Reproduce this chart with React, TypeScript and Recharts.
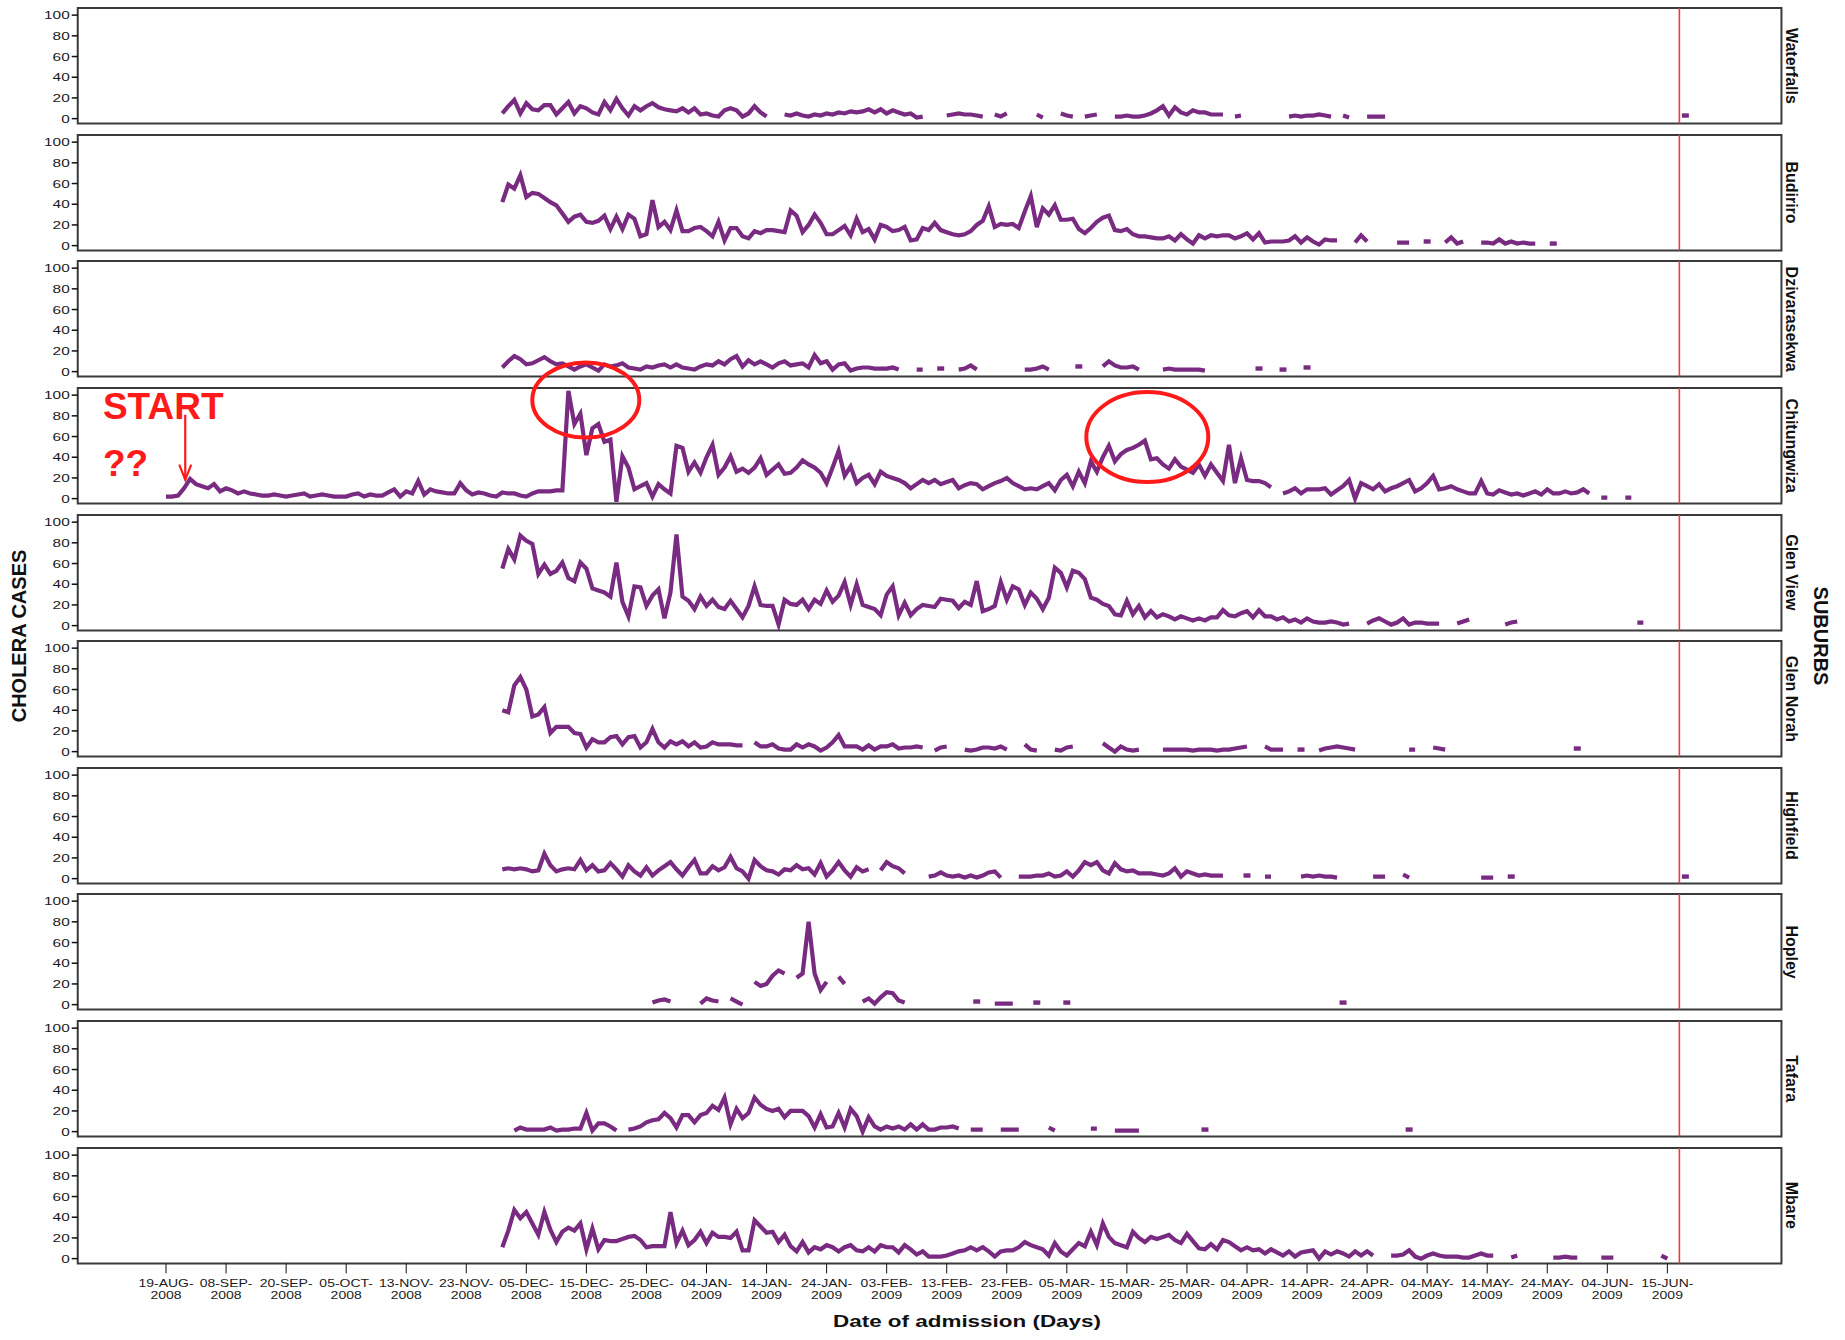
import React from 'react';
import { LineChart, Line, XAxis, YAxis, ReferenceLine, ReferenceArea, ReferenceDot } from 'recharts';

type Run = [number, number[]];

// ---------------- data ----------------
const SUBURB_NAMES = ['Waterfalls', 'Budiriro', 'Dzivarasekwa', 'Chitungwiza', 'Glen View', 'Glen Norah', 'Highfield', 'Hopley', 'Tafara', 'Mbare'];

const X_TICK_LABELS = [
  '19-AUG-2008', '08-SEP-2008', '20-SEP-2008', '05-OCT-2008', '13-NOV-2008', '23-NOV-2008', '05-DEC-2008',
  '15-DEC-2008', '25-DEC-2008', '04-JAN-2009', '14-JAN-2009', '24-JAN-2009', '03-FEB-2009', '13-FEB-2009',
  '23-FEB-2009', '05-MAR-2009', '15-MAR-2009', '25-MAR-2009', '04-APR-2009', '14-APR-2009', '24-APR-2009',
  '04-MAY-2009', '14-MAY-2009', '24-MAY-2009', '04-JUN-2009', '15-JUN-2009',
];
const X_TICK_INDEX = X_TICK_LABELS.map((_, k) => k * 10);
const Y_TICKS = [0, 20, 40, 60, 80, 100];
const CUTOFF_DAY_INDEX = 252;

// each run: [first day index, daily case counts]
const waterfalls: Run[] = [
  [56, [5, 12, 18, 5, 15, 9, 8, 13, 13, 4, 10, 16, 5, 12, 10, 6, 4, 16, 8, 19, 10, 3, 12, 8, 12, 15, 11, 9, 8, 7, 10, 6, 10, 4, 5, 3, 2, 8, 10, 8, 2, 5, 12, 6, 2]],
  [103, [4, 3, 5, 3, 2, 4, 3, 5, 4, 6, 5, 7, 6, 7, 9, 6, 9, 5, 8, 6, 4, 5, 1, 2]],
  [130, [3, 4, 5, 4, 4, 3, 2]],
  [138, [4, 2, 5]],
  [145, [4, 1]],
  [149, [5, 3, 2]],
  [153, [2, 3, 4]],
  [158, [2, 2, 3, 2, 2, 3, 5, 8, 12, 3, 11, 6, 4, 8, 6, 6, 4, 4, 4]],
  [178, [2, 3]],
  [187, [2, 3, 2, 3, 3, 4, 3, 2]],
  [196, [3, 1]],
  [200, [2, 2, 2, 2]],
  [253, [3]],
];

const budiriro: Run[] = [
  [56, [42, 59, 55, 68, 47, 51, 50, 46, 42, 39, 31, 23, 28, 30, 23, 22, 24, 29, 16, 28,
    16, 30, 26, 9, 11, 44, 18, 23, 15, 34, 14, 14, 17, 18, 14, 9, 23, 5, 17, 17,
    9, 7, 14, 12, 15, 15, 14, 13, 34, 29, 13, 20, 30, 22, 11, 11, 15, 19, 10, 26,
    13, 16, 6, 20, 18, 14, 15, 18, 5, 6, 17, 15, 22, 15, 13, 11, 10, 11, 14, 20,
    24, 38, 18, 21, 20, 21, 17, 33, 48, 18, 36, 30, 39, 25, 25, 26, 16, 12, 17, 23,
    27, 29, 15, 14, 16, 11, 9, 9, 8, 7, 7, 9, 5, 11, 6, 2, 10, 7, 10, 9,
    10, 10, 7, 9, 12, 6, 12, 3, 4, 4, 4, 5, 9, 3, 8, 4, 1, 6, 5, 5]],
  [198, [3, 10, 4]],
  [205, [3, 3, 3]],
  [210, [4]],
  [213, [3, 8, 2, 4]],
  [219, [3, 3, 2, 6, 2, 4, 2, 3, 2, 2]],
  [231, [2]],
];

const dzivarasekwa: Run[] = [
  [56, [4, 10, 15, 12, 7, 8, 11, 14, 10, 7, 8, 5, 2, 5, 7, 4, 1, 7, 5, 6,
    8, 4, 3, 2, 5, 4, 6, 7, 4, 7, 4, 3, 2, 5, 7, 6, 10, 7, 12, 15,
    5, 11, 7, 10, 7, 4, 8, 10, 6, 7, 8, 4, 16, 8, 10, 2, 7, 8, 1, 3,
    4, 4, 3, 3, 3, 4, 2]],
  [125, [2, 2]],
  [129, [3]],
  [132, [2, 3, 6, 2]],
  [143, [2, 2, 3, 5, 2]],
  [152, [5]],
  [156, [5, 10, 6, 4, 4, 5, 2]],
  [166, [2, 3, 2, 2, 2, 2, 2, 1]],
  [182, [3]],
  [186, [2]],
  [190, [4]],
];

const chitungwiza: Run[] = [
  [0, [2, 2, 3, 10, 19, 14, 12, 10, 14, 7, 10, 8, 5, 7, 5, 4, 3, 3, 4, 3,
    2, 3, 4, 5, 2, 3, 4, 3, 2, 2, 2, 4, 5, 2, 4, 3, 3, 6, 9, 2,
    7, 5, 17, 4, 9, 7, 6, 5, 5, 15, 8, 4, 6, 5, 3, 2, 6, 5, 5, 3,
    2, 5, 7, 7, 7, 8, 8,
    104, 72, 82, 42, 68, 72, 55, 57, -3, 41, 30, 9, 12, 15, 2, 14, 9, 5, 51,
    49, 26, 35, 25, 40, 52, 23, 30, 41, 26, 29, 25, 30, 39, 23, 28, 33, 24, 25, 30,
    37, 33, 30, 25, 15, 30, 46, 22, 31, 15, 20, 23, 14, 26, 22, 20, 18, 15, 10, 14,
    18, 15, 18, 14, 16, 18, 10, 13, 15, 14, 9, 12, 15, 17, 20, 15, 12, 9, 10, 9,
    12, 15, 8, 18, 23, 12, 26, 15, 36, 26, 40, 51, 36, 43, 47, 49, 52, 56, 38, 39,
    33, 29, 38, 31, 28, 25, 33, 22, 33, 25, 17, 52, 15, 39, 18, 17, 17, 15, 11]],
  [186, [5, 7, 10, 5, 9, 9, 9, 10, 4, 8, 12, 18, 0, 15, 12, 9, 14, 7, 10, 12,
    15, 18, 7, 10, 15, 22, 9, 10, 12, 9, 7, 5, 5, 17, 5, 4, 8, 6, 4, 5,
    3, 5, 7, 4, 9, 5, 5, 7, 5, 6, 9, 5]],
  [239, [1, 1]],
  [243, [1, 1]],
];

const glenView: Run[] = [
  [56, [55, 74, 64, 87, 82, 79, 50, 59, 50, 53, 61, 46, 43, 61, 55, 36, 34, 32, 28, 61,
    23, 9, 38, 37, 19, 29, 35, 7, 32, 88, 28, 24, 16, 28, 19, 25, 18, 16, 24, 16,
    8, 19, 38, 20, 19, 19, 1, 25, 21, 20, 25, 16, 25, 21, 34, 23, 29, 42, 20, 40,
    20, 18, 16, 10, 30, 38, 10, 22, 10, 16, 20, 19, 18, 26, 25, 24, 17, 23, 20, 43,
    14, 16, 19, 42, 25, 38, 35, 20, 32, 26, 16, 27, 56, 51, 37, 53, 51, 45, 27, 25,
    21, 19, 11, 10, 24, 11, 19, 8, 14, 8, 11, 9, 6, 9, 7, 5, 7, 5, 8, 8,
    15, 10, 9, 12, 14, 8, 15, 9, 9, 6, 8, 4, 6, 3, 7, 4, 3, 3, 4, 3, 1, 2]],
  [200, [2, 5, 7, 4, 1, 3, 7, 1, 3, 3, 2, 2, 2]],
  [215, [2, 4, 6]],
  [223, [1, 3, 4]],
  [245, [3, 3]],
];

const glenNorah: Run[] = [
  [56, [40, 38, 64, 72, 60, 34, 36, 43, 18, 24, 24, 24, 18, 17, 4, 12, 9, 9, 14, 15,
    7, 14, 15, 4, 9, 22, 9, 4, 10, 7, 10, 5, 9, 4, 5, 9, 7, 7, 7, 6, 6]],
  [98, [9, 5, 5, 7, 3, 2, 2, 7, 4, 7, 5, 1, 4, 9, 16, 5, 5, 5, 2, 6, 2, 5, 5, 7, 3, 4, 4, 5, 4]],
  [128, [1, 4, 5]],
  [133, [2, 1, 2, 4, 4, 3, 5, 2]],
  [143, [7, 2, 1]],
  [148, [2, 1, 4, 5]],
  [156, [8, 4, 0, 5, 2, 1, 2]],
  [166, [2, 2, 2, 2, 2, 1, 2, 2, 2, 1, 2, 2, 3, 4, 5]],
  [183, [5, 2, 2, 2]],
  [189, [2]],
  [192, [1, 3, 4, 5, 4, 3, 2]],
  [207, [2, 2]],
  [211, [4, 3, 2]],
  [235, [3]],
];

const highfield: Run[] = [
  [56, [9, 10, 9, 10, 9, 7, 8, 24, 13, 7, 9, 10, 9, 18, 8, 13, 7, 8, 15, 9,
    2, 13, 7, 3, 11, 3, 8, 12, 16, 9, 3, 11, 18, 5, 5, 12, 8, 11, 21, 10,
    7, 0, 18, 12, 8, 7, 4, 9, 8, 13, 9, 10, 4, 15, 2, 8, 16, 8, 2, 11, 7, 9]],
  [119, [8, 16, 12, 10, 5]],
  [127, [2, 3, 6, 3, 2, 3, 1, 3, 1, 3, 6, 7, 1]],
  [142, [2, 2, 2, 3, 3, 5, 2, 3, 7, 2, 8, 16, 13, 16, 8, 5, 15, 9, 7, 8,
    5, 5, 5, 4, 3, 5, 10, 2, 7, 5, 3, 4, 3, 3, 3]],
  [180, [3]],
  [183, [2, 2]],
  [189, [2, 3, 2, 3, 2, 2, 1]],
  [201, [2, 2, 2]],
  [206, [4, 1]],
  [219, [1, 1, 1]],
  [224, [2]],
  [253, [2]],
];

const hopley: Run[] = [
  [81, [2, 4, 5, 3]],
  [89, [1, 6, 4, 3]],
  [94, [6, 3, 0]],
  [98, [22, 18, 20, 28, 33, 30]],
  [105, [26, 30, 80, 30, 14, 22]],
  [112, [27, 20]],
  [116, [3, 6, 1, 7, 12, 11, 4, 2]],
  [135, [3]],
  [138, [1, 1, 1, 1]],
  [145, [2]],
  [150, [2]],
  [196, [2]],
];

const tafara: Run[] = [
  [58, [1, 4, 2, 2, 2, 2, 4, 1, 2, 2, 3, 3, 18, 1, 8, 8, 5, 1]],
  [77, [2, 3, 5, 9, 11, 12, 18, 13, 4, 16, 16, 9, 16, 18, 25, 21, 33, 7, 22, 13,
    18, 33, 26, 22, 20, 22, 14, 20, 20, 20, 15, 4, 17, 4, 5, 18, 4, 22, 15, 0,
    14, 5, 2, 5, 3, 5, 2, 7, 2, 7, 2, 2, 4, 4, 5, 3]],
  [134, [2, 2, 2]],
  [139, [2, 2, 2, 2]],
  [147, [4, 1]],
  [154, [3, 3]],
  [158, [1, 1, 1, 1, 1]],
  [173, [2]],
  [207, [2]],
];

const mbare: Run[] = [
  [56, [11, 27, 47, 39, 45, 34, 23, 45, 28, 16, 26, 30, 27, 34, 9, 29, 9, 18, 17, 17,
    19, 21, 22, 18, 11, 12, 12, 12, 45, 15, 27, 13, 18, 26, 15, 25, 21, 21, 20, 26,
    8, 8, 37, 31, 25, 26, 16, 23, 12, 7, 16, 6, 11, 9, 13, 11, 7, 11, 13, 8,
    7, 11, 7, 13, 11, 11, 6, 13, 9, 4, 7, 2, 2, 2, 3, 5, 7, 8, 11, 8,
    11, 7, 2, 7, 8, 8, 11, 16, 13, 11, 9, 3, 15, 7, 3, 9, 15, 12, 26, 13,
    34, 21, 15, 13, 11, 26, 20, 16, 21, 19, 21, 23, 18, 15, 24, 17, 10, 9, 14, 9,
    18, 16, 12, 8, 11, 8, 9, 5, 9, 6, 3, 7, 2, 6, 7, 8, 0, 7, 4, 7,
    5, 2, 7, 3, 7, 3]],
  [204, [3, 3, 4, 8, 2, 0, 3, 5, 3, 2, 2, 2, 1, 1, 3, 5, 3, 3]],
  [224, [1, 3]],
  [231, [1, 1, 2, 1, 1]],
  [239, [1, 1, 1]],
  [249, [3, 0]],
];

const SERIES: Run[][] = [waterfalls, budiriro, dzivarasekwa, chitungwiza, glenView, glenNorah, highfield, hopley, tafara, mbare];

// ---------------- layout / style ----------------
const W = 1845;
const H = 1340;
const PLOT_LEFT = 77.7;
const PLOT_RIGHT = 1781.5;
const PANEL_TOP0 = 8.2;
const PITCH = 126.6;
const PANEL_H = 115.4;
const MT = 40;
const MB = 40;
const Y_AXIS_W = 60;
const X_AXIS_H = 45;
const X_DOMAIN: [number, number] = [-14.7, 269.0];
const Y_DOMAIN: [number, number] = [-4.6, 106.9];
const N_DAYS = 262;

const PURPLE = '#782B80';
const RED = '#FF1A1A';
const REF_RED = '#EE3B3B';
const FONT = '"Liberation Sans", Arial, sans-serif';

function buildRows(runs: Run[]) {
  const rows: { i: number; v: number | null }[] = Array.from({ length: N_DAYS }, (_, i) => ({ i, v: null }));
  runs.forEach(([start, vals]) => vals.forEach((v, j) => { rows[start + j].v = v; }));
  return rows;
}

const YTick = (props: any) => {
  const { x, y, payload } = props;
  return (
    <g transform={`translate(${x},${y})`}>
      <text x={0} y={0} dy={4} textAnchor="end" transform="scale(1.4,1)" fontSize={11} fill="#1a1a1a" fontFamily={FONT}>
        {payload.value}
      </text>
    </g>
  );
};

const XTick = (props: any) => {
  const { x, y, payload } = props;
  const label = X_TICK_LABELS[Math.round(payload.value / 10)] || '';
  const cut = label.lastIndexOf('-') + 1;
  return (
    <g transform={`translate(${x},${y})`}>
      <text textAnchor="middle" transform="scale(1.4,1)" fontSize={10} fill="#1a1a1a" fontFamily={FONT}>
        <tspan x={0} dy={11.5}>{label.slice(0, cut)}</tspan>
        <tspan x={0} dy={12.5}>{label.slice(cut)}</tspan>
      </text>
    </g>
  );
};

// annotation positions in data coordinates (day index, cases) for the Chitungwiza panel
const NOTE_ELLIPSES = [
  { x: 69.9, y: 95.3, rx: 53.5, ry: 37.6 },
  { x: 163.4, y: 59.5, rx: 61, ry: 45 },
];
const NOTE_START = { x: -10.5, y: 77, text: 'START' };
const NOTE_Q = { x: -10.5, y: 21.8, text: '??' };
const NOTE_ARROW = { x: 3.2, y: 18.3 };

function Panel({ k }: { k: number }) {
  const rows = buildRows(SERIES[k]);
  const last = k === SUBURB_NAMES.length - 1;
  const panelTop = PANEL_TOP0 + k * PITCH;
  const height = MT + PANEL_H + MB + (last ? X_AXIS_H : 0);
  const renderDot = (p: any) => {
    const idx = p.index;
    const cur = rows[idx]?.v;
    const prev = idx > 0 ? rows[idx - 1]?.v : null;
    const next = rows[idx + 1]?.v;
    if (cur == null || p.cx == null || p.cy == null || prev != null || next != null) {
      return <g key={`d-${idx}`} />;
    }
    return <rect key={`d-${idx}`} x={p.cx - 3.5} y={p.cy - 2.2} width={7} height={4.4} fill={PURPLE} />;
  };
  return (
    <div style={{ position: 'absolute', left: 0, top: panelTop - MT }}>
      <LineChart
        width={W}
        height={height}
        data={rows}
        margin={{ top: MT, bottom: MB, left: PLOT_LEFT - Y_AXIS_W, right: W - PLOT_RIGHT }}
      >
        <XAxis
          dataKey="i"
          type="number"
          domain={X_DOMAIN}
          ticks={X_TICK_INDEX}
          interval={0}
          allowDataOverflow
          hide={!last}
          height={X_AXIS_H}
          axisLine={false}
          tickLine={{ stroke: '#111', strokeWidth: 1 }}
          tickSize={10}
          tickMargin={2}
          tick={(p: any) => <XTick {...p} />}
        />
        <YAxis
          type="number"
          domain={Y_DOMAIN}
          ticks={Y_TICKS}
          interval={0}
          allowDataOverflow
          width={Y_AXIS_W}
          axisLine={false}
          tickLine={{ stroke: '#111', strokeWidth: 1.5 }}
          tickSize={6}
          tickMargin={2}
          tick={(p: any) => <YTick {...p} />}
        />
        <ReferenceArea
          x1={X_DOMAIN[0]}
          x2={X_DOMAIN[1]}
          y1={Y_DOMAIN[0]}
          y2={Y_DOMAIN[1]}
          fill="none"
          fillOpacity={0}
          stroke="#3a3a3a"
          strokeWidth={2}
          ifOverflow="visible"
        />
        <ReferenceLine x={CUTOFF_DAY_INDEX} stroke={REF_RED} strokeWidth={1.6} ifOverflow="visible" />
        <Line
          type="linear"
          dataKey="v"
          stroke={PURPLE}
          strokeWidth={4.2}
          strokeLinejoin="miter"
          strokeLinecap="butt"
          dot={renderDot}
          activeDot={false}
          connectNulls={false}
          isAnimationActive={false}
        />
        {k === 3 && NOTE_ELLIPSES.map((e, n) => (
          <ReferenceDot
            key={`el-${n}`}
            x={e.x}
            y={e.y}
            r={1}
            ifOverflow="visible"
            shape={(p: any) => (
              <ellipse cx={p.cx} cy={p.cy} rx={e.rx} ry={e.ry} fill="none" stroke={RED} strokeWidth={4} />
            )}
          />
        ))}
        {k === 3 && [NOTE_START, NOTE_Q].map((t, n) => (
          <ReferenceDot
            key={`tx-${n}`}
            x={t.x}
            y={t.y}
            r={1}
            ifOverflow="visible"
            shape={(p: any) => (
              <text x={p.cx} y={p.cy} fill={RED} fontSize={37} fontWeight="bold" fontFamily={FONT}>{t.text}</text>
            )}
          />
        ))}
        {k === 3 && (
          <ReferenceDot
            x={NOTE_ARROW.x}
            y={NOTE_ARROW.y}
            r={1}
            ifOverflow="visible"
            shape={(p: any) => (
              <g stroke={RED} strokeWidth={2.2} fill="none">
                <line x1={p.cx} y1={p.cy - 65} x2={p.cx} y2={p.cy} />
                <polyline points={`${p.cx - 6},${p.cy - 15} ${p.cx},${p.cy} ${p.cx + 6},${p.cy - 15}`} />
              </g>
            )}
          />
        )}
      </LineChart>
    </div>
  );
}

export default function App() {
  return (
    <div style={{ position: 'relative', width: W, height: H, background: '#fff', overflow: 'hidden', fontFamily: FONT }}>
      <style>{'body{margin:0;background:#fff;}'}</style>
      {SUBURB_NAMES.map((_, k) => <Panel key={k} k={k} />)}
      <svg width={W} height={H} style={{ position: 'absolute', left: 0, top: 0, pointerEvents: 'none' }}>
        {SUBURB_NAMES.map((name, k) => (
          <text
            key={name}
            transform={`translate(1791.5,${PANEL_TOP0 + k * PITCH + PANEL_H / 2}) rotate(90)`}
            textAnchor="middle"
            dy="0.35em"
            fontSize={16}
            fontWeight="bold"
            fill="#111"
            fontFamily={FONT}
          >
            {name}
          </text>
        ))}
        <text transform="translate(1821,636) rotate(90)" textAnchor="middle" dy="0.35em" fontSize={20} fontWeight="bold" fill="#111" fontFamily={FONT}>
          SUBURBS
        </text>
        <text transform="translate(19,636) rotate(-90)" textAnchor="middle" dy="0.35em" fontSize={20} fontWeight="bold" fill="#111" fontFamily={FONT}>
          CHOLERA CASES
        </text>
        <text x={967} y={1327} textAnchor="middle" fontSize={16} fontWeight="bold" fill="#111" fontFamily={FONT} textLength={268} lengthAdjust="spacingAndGlyphs">
          Date of admission (Days)
        </text>
      </svg>
    </div>
  );
}
